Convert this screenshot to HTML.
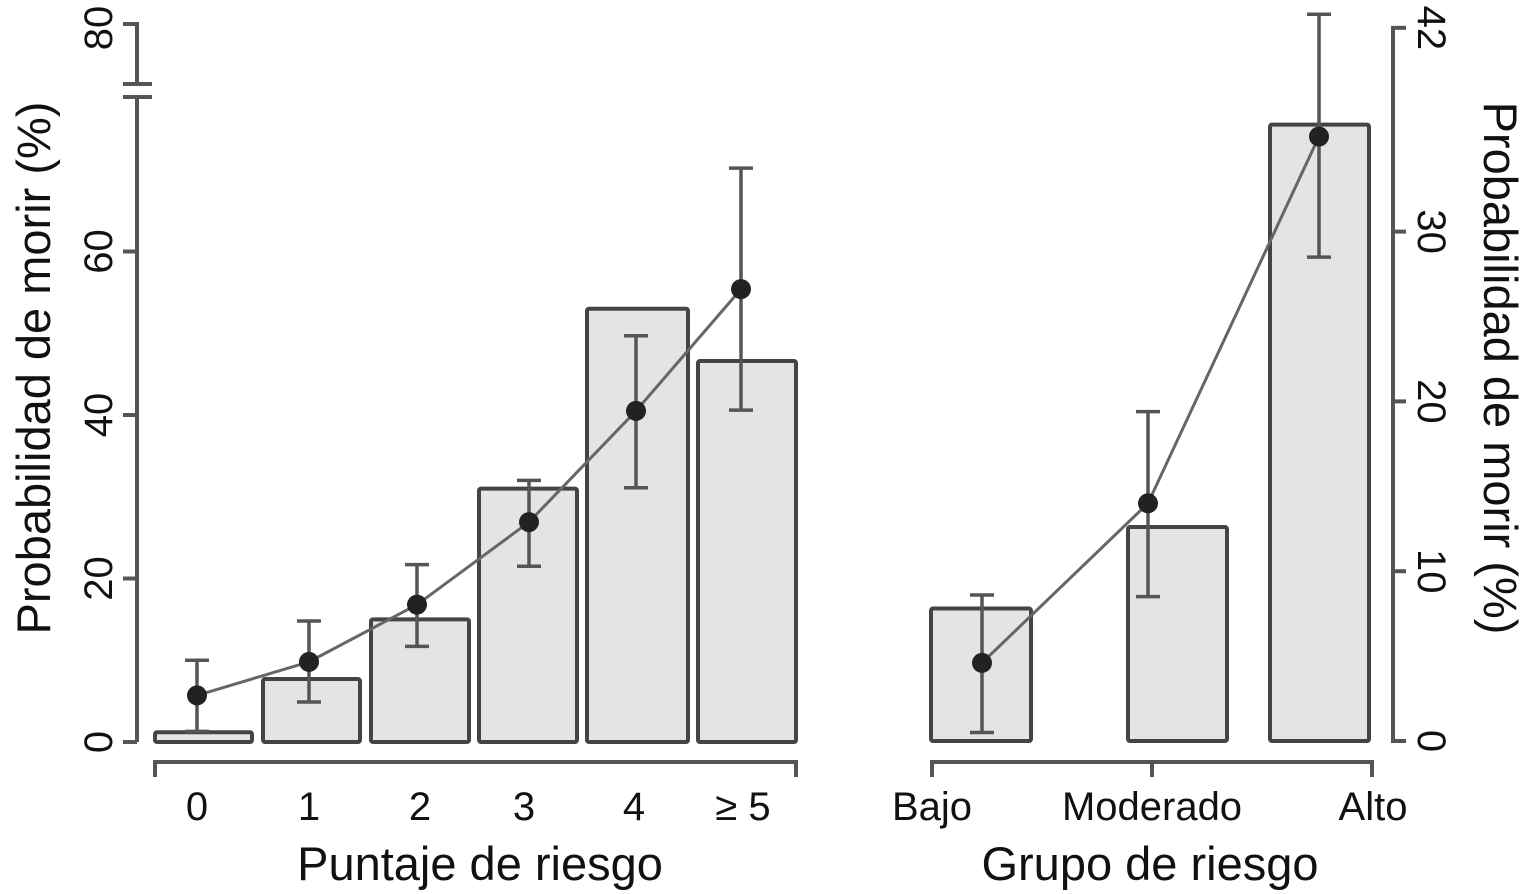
<!DOCTYPE html>
<html><head><meta charset="utf-8"><style>
html,body{margin:0;padding:0;background:#fff;}
svg{display:block;font-family:"Liberation Sans",sans-serif;}
</style></head><body>
<svg id="c" width="1530" height="894" viewBox="0 0 1530 894"></svg>
<script>
const leftCats=["0","1","2","3","4","≥ 5"];
const leftBars=[1.2,7.7,15.0,31.0,53.0,46.6];
const leftPts=[5.7,9.8,16.8,26.9,40.5,55.4];
const leftLo=[1.3,4.9,11.7,21.5,31.1,40.6];
const leftHi=[10.0,14.8,21.7,32.0,49.7,70.2];
const leftTicks=[0,20,40,60];
const rightCats=["Bajo","Moderado","Alto"];
const rightBars=[7.8,12.6,36.3];
const rightPts=[4.6,14.0,35.6];
const rightLo=[0.5,8.5,28.5];
const rightHi=[8.6,19.4,42.8];
const rightTicks=[0,10,20,30,42];

const svg=document.getElementById('c');
const NS="http://www.w3.org/2000/svg";
function mk(t,a,p){const e=document.createElementNS(NS,t);for(const k in a)e.setAttribute(k,a[k]);(p||svg).appendChild(e);return e;}
const G="#555";
const TF=40, TT=47;
const yL=v=>742-v*8.175;
const yR=v=>741-v*16.98;
const lx0=[155,263,371,479,587,698], lw=[97,97,98,98,101,98];
const lpx=[197,309,417,529,636,741], llx=[197,309,420,524,634,743];
const rx0=[931,1128,1270], rw=[100,99,99], rpx=[982,1148,1319], rlx=[932,1152,1373];

let e;
e=mk('path',{d:`M137 742 V97 M137 84 V24 H123 M123 84 H152 M123 97 H152`,stroke:G,'stroke-width':4,fill:'none'});

leftTicks.forEach(v=>{const y=yL(v);
 e=mk('line',{x1:123,x2:137,y1:y,y2:y,stroke:G,'stroke-width':4});
 
 e=mk('text',{transform:`translate(112 ${y}) rotate(-90)`,'text-anchor':'middle','font-size':TF,fill:'#111'});e.textContent=v;
 });
e=mk('text',{transform:'translate(112 28) rotate(-90)','text-anchor':'middle','font-size':TF,fill:'#111'});e.textContent='80';

e=mk('text',{transform:'translate(50 368) rotate(-90)','text-anchor':'middle','font-size':TT,fill:'#111'});e.textContent='Probabilidad de morir (%)';

e=mk('path',{d:'M155 777 V762 H796 V777',stroke:G,'stroke-width':4,fill:'none'});

leftCats.forEach((c,i)=>{e=mk('text',{x:llx[i],y:820,'text-anchor':'middle','font-size':TF,fill:'#111'});e.textContent=c;
 });
e=mk('text',{x:480,y:880,'text-anchor':'middle','font-size':TT,fill:'#111'});e.textContent='Puntaje de riesgo';


function panel(x0,w,px,bars,pts,lo,hi,ys,pre){
 bars.forEach((v,i)=>{e=mk('rect',{x:x0[i],y:ys(v),width:w[i],height:ys(0)-ys(v),fill:'#e4e4e4',stroke:'#444','stroke-width':4,rx:2});
  });
 e=mk('polyline',{points:pts.map((v,i)=>px[i]+','+ys(v)).join(' '),fill:'none',stroke:'#666','stroke-width':3});
 
 pts.forEach((v,i)=>{
  e=mk('path',{d:`M${px[i]} ${ys(lo[i])} V${ys(hi[i])} M${px[i]-12} ${ys(lo[i])} H${px[i]+12} M${px[i]-12} ${ys(hi[i])} H${px[i]+12}`,stroke:'#555','stroke-width':3.5,fill:'none'});
  
  e=mk('circle',{cx:px[i],cy:ys(v),r:10,fill:'#222'});
  });
}
panel(lx0,lw,lpx,leftBars,leftPts,leftLo,leftHi,yL,'left');

e=mk('line',{x1:1393,x2:1393,y1:yR(0),y2:yR(42),stroke:G,'stroke-width':4});

rightTicks.forEach(v=>{const y=yR(v);
 e=mk('line',{x1:1391,x2:1406,y1:y,y2:y,stroke:G,'stroke-width':4});
 
 e=mk('text',{transform:`translate(1418 ${y}) rotate(90)`,'text-anchor':'middle','font-size':TF,fill:'#111'});e.textContent=v;
 });
e=mk('text',{transform:'translate(1484 368) rotate(90)','text-anchor':'middle','font-size':TT,fill:'#111'});e.textContent='Probabilidad de morir (%)';

e=mk('path',{d:'M932 777 V762 H1372 V777 M1152 762 V777',stroke:G,'stroke-width':4,fill:'none'});

rightCats.forEach((c,i)=>{e=mk('text',{x:rlx[i],y:820,'text-anchor':'middle','font-size':TF,fill:'#111'});e.textContent=c;
 });
e=mk('text',{x:1150,y:880,'text-anchor':'middle','font-size':TT,fill:'#111'});e.textContent='Grupo de riesgo';

panel(rx0,rw,rpx,rightBars,rightPts,rightLo,rightHi,yR,'right');
</script>
</body></html>
